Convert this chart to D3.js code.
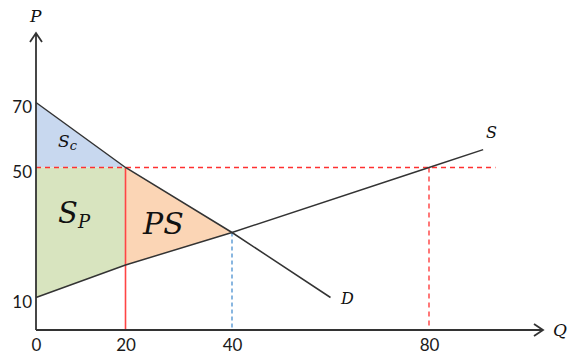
<!DOCTYPE html>
<html>
<head>
<meta charset="utf-8">
<script src="https://cdn.jsdelivr.net/npm/d3@7"></script>
<style>
  body { margin: 0; background: #fff; }
  .tick text { font-family: Lato, "Open Sans", sans-serif; font-size: 17px; fill: #1a1a1a; }
  .lbl { font-family: "DejaVu Serif", serif; font-style: italic; fill: #111; }
</style>
</head>
<body>
<div id="chart"></div>
<script>
// data
var demand = [[0, 70], [20, 50], [40, 30], [60, 10]];
var supply = [[0, 10], [20, 20], [40, 30], [80, 50], [91, 55.5]];
var xTicks = [0, 20, 40, 80];
var yTicks = [10, 50, 70];
var priceCap = 50;
var qCap = 20, qEq = 40, pEq = 30, qSupplyAtCap = 80;
var areaSc = [[0, 70], [20, 50], [0, 50]];
var areaSp = [[0, 50], [20, 50], [20, 20], [0, 10]];
var areaPS = [[20, 50], [40, 30], [20, 20]];

var width = 568, height = 355;

var svg = d3.select("#chart").append("svg")
    .attr("width", width)
    .attr("height", height);

// x axis spacing in the original is not uniform, keep the drawn tick positions
var x = d3.scaleLinear().domain([0, 20, 40, 80]).range([36, 125.5, 232, 429]);
var y = d3.scaleLinear().domain([0, 70]).range([330, 102.5]);

var line = d3.line().x(function(d){ return x(d[0]) }).y(function(d){ return y(d[1]) });

// areas
svg.append("path").attr("d", line(areaSc) + "Z").attr("fill", "#c8d8ef");
svg.append("path").attr("d", line(areaSp) + "Z").attr("fill", "#d8e4bf");
svg.append("path").attr("d", line(areaPS) + "Z").attr("fill", "#fbd5b5");

// guides
svg.append("line")
    .attr("x1", x(0)).attr("x2", x(93.5))
    .attr("y1", y(priceCap)).attr("y2", y(priceCap))
    .attr("stroke", "#ff3030").attr("stroke-width", 1.3).attr("stroke-dasharray", "5,4");
svg.append("line")
    .attr("x1", x(qSupplyAtCap)).attr("x2", x(qSupplyAtCap))
    .attr("y1", y(priceCap)).attr("y2", y(0))
    .attr("stroke", "#ff3030").attr("stroke-width", 1.3).attr("stroke-dasharray", "5,4");
svg.append("line")
    .attr("x1", x(qEq)).attr("x2", x(qEq))
    .attr("y1", y(pEq)).attr("y2", y(0))
    .attr("stroke", "#4a90d0").attr("stroke-width", 1.3).attr("stroke-dasharray", "4,3");
svg.append("line")
    .attr("x1", x(qCap)).attr("x2", x(qCap))
    .attr("y1", y(priceCap)).attr("y2", y(0))
    .attr("stroke", "#ff4545").attr("stroke-width", 1.6);

// demand & supply
svg.append("path").attr("d", line(demand)).attr("fill", "none").attr("stroke", "#333").attr("stroke-width", 1.5);
svg.append("path").attr("d", line(supply)).attr("fill", "none").attr("stroke", "#333").attr("stroke-width", 1.5);

// axes
var yAxis = svg.append("g")
    .attr("transform", "translate(" + x(0) + ",0)")
    .call(d3.axisLeft(y).tickValues(yTicks).tickSize(0).tickPadding(4));
yAxis.select(".domain").remove();
yAxis.selectAll("text").attr("dy", "0.6em");

var xAxis = svg.append("g")
    .attr("transform", "translate(0," + y(0) + ")")
    .call(d3.axisBottom(x).tickValues(xTicks).tickSize(0).tickPadding(9));
xAxis.select(".domain").remove();

var axisTop = 33, axisRight = 543;
svg.append("path")
    .attr("d", "M" + x(0) + "," + y(0) + "V" + axisTop + "M" + (x(0) - 6) + "," + (axisTop + 9) + "L" + x(0) + "," + axisTop + "L" + (x(0) + 6) + "," + (axisTop + 9))
    .attr("fill", "none").attr("stroke", "#333").attr("stroke-width", 1.8);
svg.append("path")
    .attr("d", "M" + x(0) + "," + y(0) + "H" + axisRight + "M" + (axisRight - 9) + "," + (y(0) - 6) + "L" + axisRight + "," + y(0) + "L" + (axisRight - 9) + "," + (y(0) + 6))
    .attr("fill", "none").attr("stroke", "#333").attr("stroke-width", 1.8);

// labels
function label(txt, px, py, size, sub, subSize) {
    var t = svg.append("text").attr("class", "lbl")
        .attr("x", px).attr("y", py).style("font-size", size + "px").text(txt);
    if (sub) {
        t.append("tspan").attr("dy", size * 0.18).style("font-size", subSize + "px").text(sub);
    }
}
label("P", 30, 22, 17);
label("Q", 553, 336, 17);
label("D", 341, 304, 16);
label("S", 486, 138, 16);
label("S", 58, 147, 17, "c", 13);
label("S", 58, 223, 29, "P", 18);
label("PS", 143, 234, 30);
</script>
</body>
</html>
